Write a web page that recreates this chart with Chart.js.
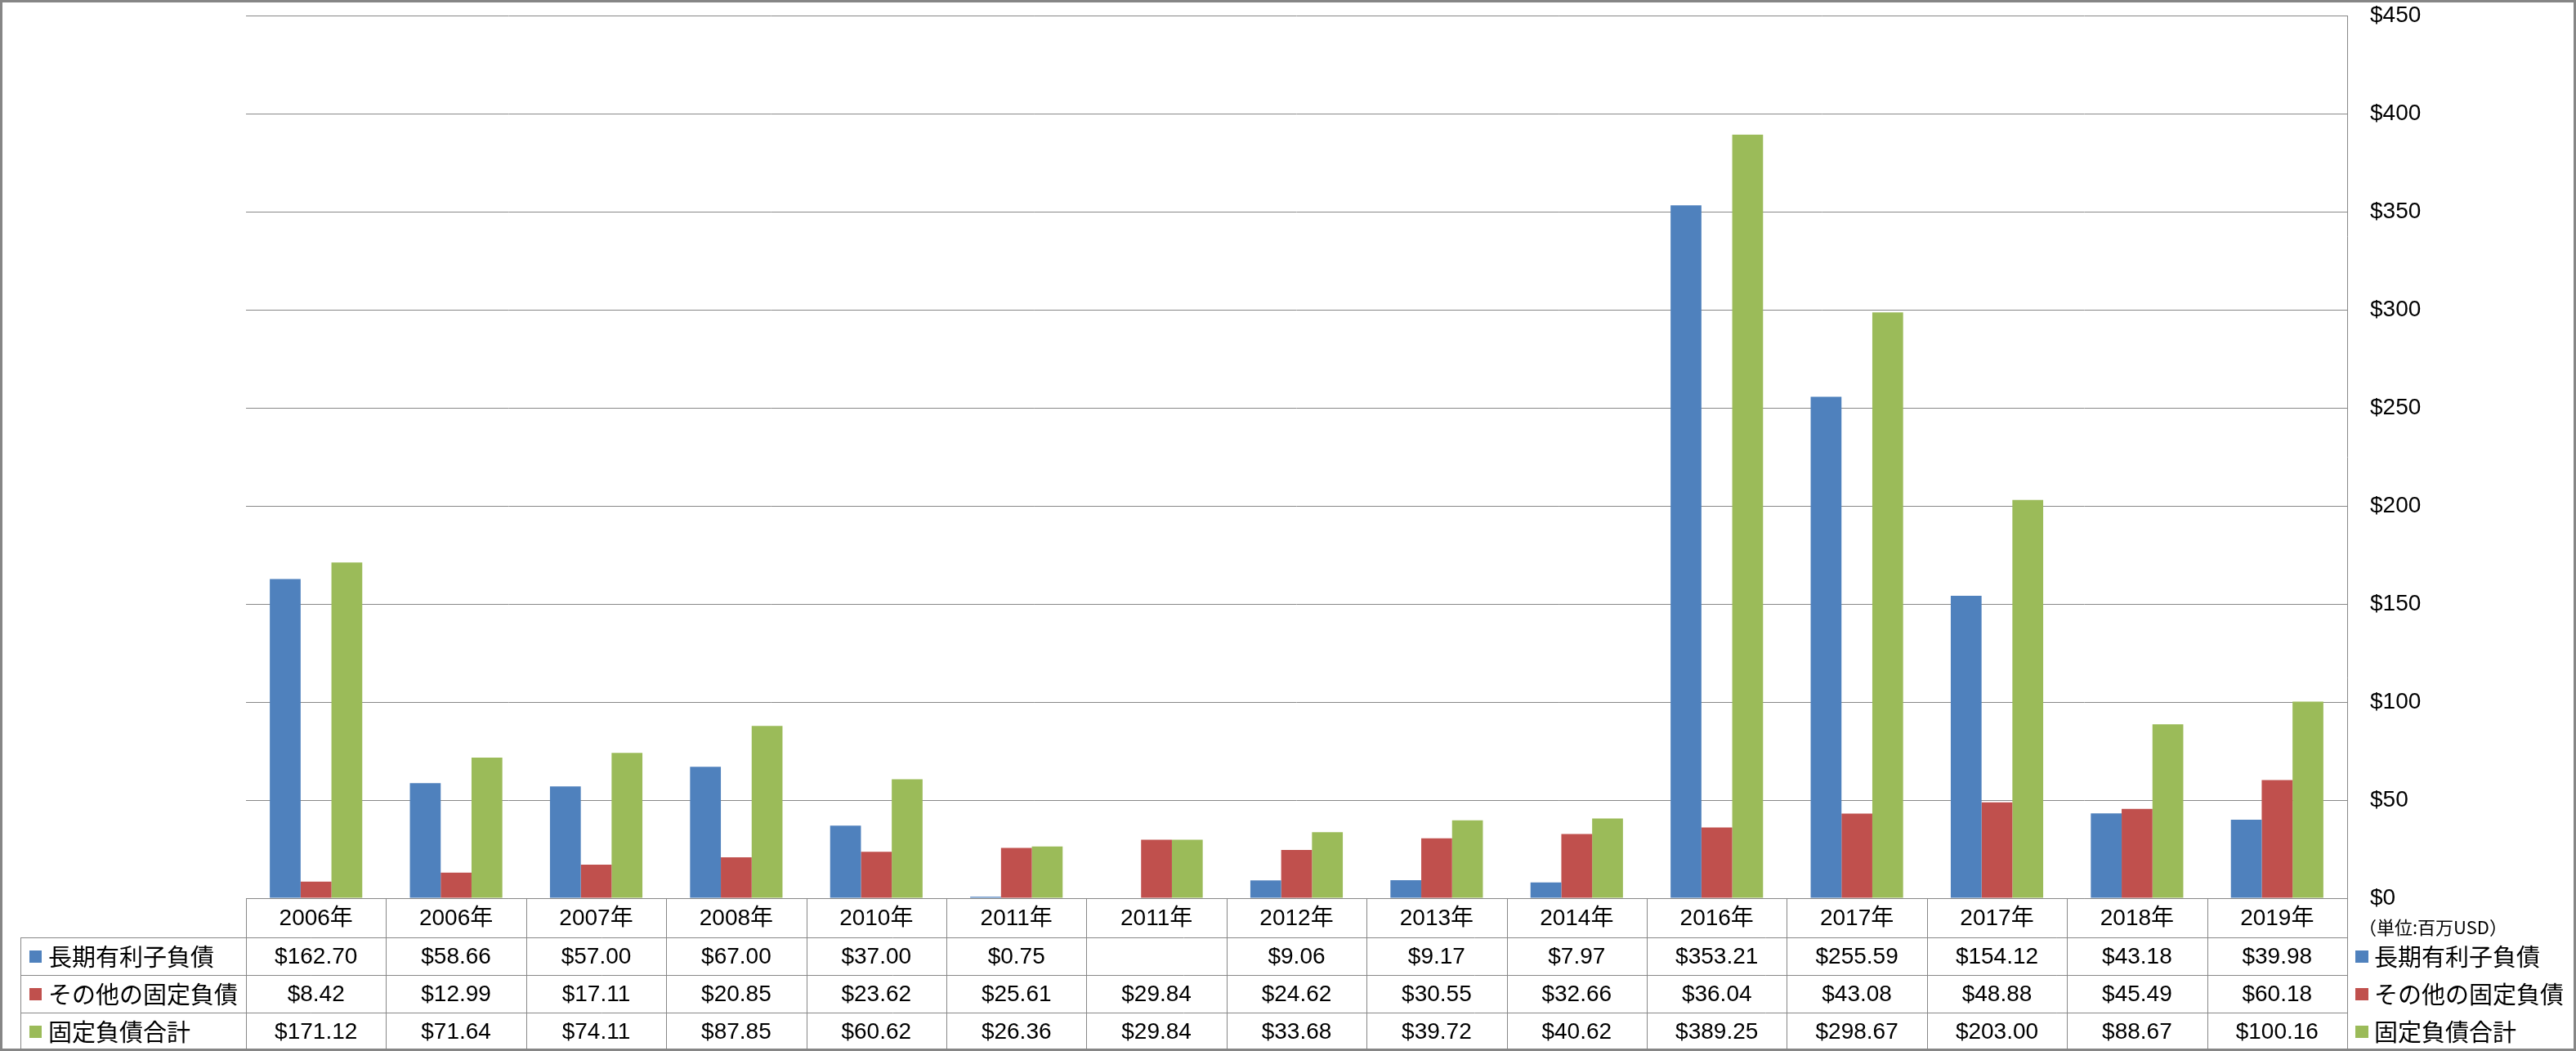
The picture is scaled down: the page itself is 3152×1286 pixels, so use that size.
<!DOCTYPE html>
<html><head><meta charset="utf-8">
<script src="https://cdn.jsdelivr.net/npm/chart.js@4/dist/chart.umd.min.js"></script>
<style>html,body{margin:0;padding:0;background:#fff;}canvas{display:block;}</style>
</head><body>
<canvas id="c" width="3152" height="1286"></canvas>
<script>
const categories = ['2006年','2006年','2007年','2008年','2010年','2011年','2011年','2012年','2013年','2014年','2016年','2017年','2017年','2018年','2019年'];
const seriesNames = ['長期有利子負債','その他の固定負債','固定負債合計'];
const longTermDebt = [162.70,58.66,57.00,67.00,37.00,0.75,null,9.06,9.17,7.97,353.21,255.59,154.12,43.18,39.98];
const otherFixed = [8.42,12.99,17.11,20.85,23.62,25.61,29.84,24.62,30.55,32.66,36.04,43.08,48.88,45.49,60.18];
const totalFixed = [171.12,71.64,74.11,87.85,60.62,26.36,29.84,33.68,39.72,40.62,389.25,298.67,203.00,88.67,100.16];
const tickValues = [0,50,100,150,200,250,300,350,400,450];
const unitLabel = '（単位:百万USD）';
const colors = ['#4F81BD','#C0504D','#9BBB59'];

const FONT = "'Liberation Sans', 'Noto Sans CJK JP', sans-serif";
const CJK = "'Noto Sans CJK JP', 'Liberation Sans', sans-serif";
const LINE = '#888888';

const tablePlugin = {
  id: 'dataTable',
  afterDraw(chart) {
    const ctx = chart.ctx;
    const a = chart.chartArea;
    const n = categories.length;
    const w = (a.right - a.left) / n;
    const top = a.bottom;
    const hH = 48, rH = 46;
    const rows = [longTermDebt, otherFixed, totalFixed];
    const legLeft = 25;
    ctx.save();
    ctx.strokeStyle = LINE;
    ctx.lineWidth = 1;
    const hl = (x1, x2, y) => { ctx.beginPath(); ctx.moveTo(x1, Math.round(y)+0.5); ctx.lineTo(x2, Math.round(y)+0.5); ctx.stroke(); };
    const vl = (x, y1, y2) => { ctx.beginPath(); ctx.moveTo(Math.round(x)+0.5, y1); ctx.lineTo(Math.round(x)+0.5, y2); ctx.stroke(); };
    hl(a.left, a.right, top);
    for (let r = 0; r < 3; r++) hl(legLeft, a.right, top + hH + r*rH);
    hl(legLeft, a.right, top + hH + 3*rH);
    for (let i = 0; i <= n; i++) vl(a.left + i*w, top, top + hH + 3*rH);
    vl(legLeft, top + hH, top + hH + 3*rH);

    ctx.fillStyle = '#000';
    ctx.textAlign = 'center';
    ctx.textBaseline = 'middle';
    ctx.font = '28px ' + FONT;
    for (let i = 0; i < n; i++) {
      const cx = a.left + (i + 0.5) * w;
      ctx.fillText(categories[i], cx, top + hH/2 + 1);
      rows.forEach((arr, r) => {
        const v = arr[i];
        if (v === null || v === undefined) return;
        ctx.fillText('$' + v.toFixed(2), cx, top + hH + r*rH + rH/2 + 1);
      });
    }
    ctx.textAlign = 'left';
    ctx.font = '29px ' + CJK;
    seriesNames.forEach((s, r) => {
      const cy = top + hH + r*rH + rH/2;
      ctx.fillStyle = colors[r];
      ctx.fillRect(36, cy - 7, 15, 15);
      ctx.fillStyle = '#000';
      ctx.fillText(s, 59, cy + 1);
      ctx.fillStyle = colors[r];
      ctx.fillRect(2882, cy - 7, 16, 15);
      ctx.fillStyle = '#000';
      ctx.fillText(s, 2905, cy + 1);
    });
    ctx.font = '22px ' + CJK;
    ctx.fillText(unitLabel, 2886, top + 36);
    ctx.strokeStyle = '#868686';
    ctx.lineWidth = 3;
    ctx.strokeRect(1.5, 1.5, 3149, 1283);
    ctx.restore();
  }
};

new Chart(document.getElementById('c'), {
  type: 'bar',
  data: {
    labels: categories,
    datasets: [
      { label: seriesNames[0], data: longTermDebt, backgroundColor: colors[0] },
      { label: seriesNames[1], data: otherFixed, backgroundColor: colors[1] },
      { label: seriesNames[2], data: totalFixed, backgroundColor: colors[2] }
    ]
  },
  options: {
    responsive: false,
    animation: false,
    devicePixelRatio: 1,
    layout: { padding: { left: 301, top: 19, bottom: 187, right: 0 } },
    plugins: { legend: { display: false }, tooltip: { enabled: false } },
    datasets: { bar: { categoryPercentage: 0.66, barPercentage: 1.0 } },
    scales: {
      x: { display: false, offset: true, grid: { display: false } },
      y: {
        position: 'right',
        min: 0, max: 450,
        afterBuildTicks: (s) => { s.ticks = tickValues.map(v => ({ value: v })); },
        afterFit: (s) => { s.width = 280; s.paddingTop = 0; s.paddingBottom = 0; },
        grid: { color: LINE, lineWidth: 1, drawTicks: false },
        border: { display: true, color: LINE, width: 1 },
        ticks: {
          padding: 28,
          color: '#000',
          font: { size: 28, family: FONT },
          callback: (v) => '$' + v
        }
      }
    }
  },
  plugins: [tablePlugin]
});
</script>
</body></html>
